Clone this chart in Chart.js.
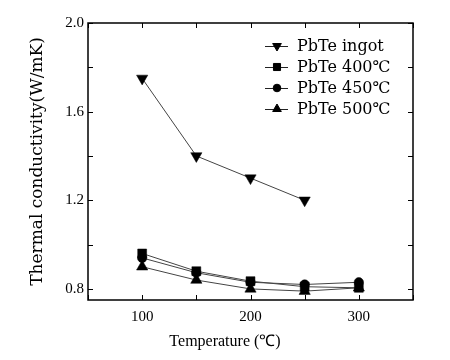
<!DOCTYPE html>
<html><head><meta charset="utf-8">
<script src="https://cdn.jsdelivr.net/npm/chart.js@4/dist/chart.umd.min.js"></script>
<style>html,body{margin:0;padding:0;background:#fff}#w{width:450px;height:360px}</style>
</head><body><div id="w"><canvas id="c" width="450" height="360"></canvas></div>
<script>
const temperatures = [100, 150, 200, 250, 300];
const ingot = [1.75, 1.40, 1.30, 1.20, null];
const pb400 = [0.96, 0.88, 0.835, 0.81, 0.805];
const pb450 = [0.94, 0.873, 0.83, 0.82, 0.83];
const pb500 = [0.90, 0.84, 0.80, 0.79, 0.805];
const seriesLabels = ['PbTe ingot', 'PbTe 400\u2103', 'PbTe 450\u2103', 'PbTe 500\u2103'];
const yTicks = [0.8, 1.0, 1.2, 1.4, 1.6, 1.8, 2.0];
const yLabeled = [0.8, 1.2, 1.6, 2.0];
const xTicks = [50, 100, 150, 200, 250, 300, 350];
const xLabeled = [100, 200, 300];
const xTitle = 'Temperature (\u2103)';
const yTitle = 'Thermal conductivity(W/mK)';

const SERIF = "'Liberation Serif', serif";
const WIDE = "'DejaVu Serif', serif";
const styles = [
  {pointStyle:'triangle', rotation:180, radius:6.5, legendRadius:5},
  {pointStyle:'rect', rotation:0, radius:6.3, legendRadius:5},
  {pointStyle:'circle', rotation:0, radius:4.7, legendRadius:3.8},
  {pointStyle:'triangle', rotation:0, radius:6.5, legendRadius:5}
];
const allData = [ingot, pb400, pb450, pb500];
const datasets = allData.map((arr, i) => ({
  label: seriesLabels[i],
  data: temperatures.map((t, j) => ({x: t, y: arr[j]})).filter(p => p.y !== null),
  borderColor: '#444',
  borderWidth: 1,
  backgroundColor: '#000',
  pointBackgroundColor: '#000',
  pointBorderColor: '#000',
  pointBorderWidth: 0.5,
  pointStyle: styles[i].pointStyle,
  pointRotation: styles[i].rotation,
  pointRadius: styles[i].radius,
  tension: 0
}));

const framePlugin = {
  id: 'frame',
  afterDraw(chart) {
    const {ctx, chartArea: a, scales} = chart;
    ctx.save();
    ctx.strokeStyle = '#000';
    ctx.lineWidth = 1.5;
    ctx.strokeRect(a.left, a.top, a.right - a.left, a.bottom - a.top);
    ctx.lineWidth = 1;
    ctx.beginPath();
    xTicks.forEach(v => {
      const x = Math.round(scales.x.getPixelForValue(v)) + 0.5;
      ctx.moveTo(x, a.bottom); ctx.lineTo(x, a.bottom - 5);
      ctx.moveTo(x, a.top); ctx.lineTo(x, a.top + 5);
    });
    yTicks.forEach(v => {
      const y = Math.round(scales.y.getPixelForValue(v)) + 0.5;
      ctx.moveTo(a.left, y); ctx.lineTo(a.left + 5, y);
      ctx.moveTo(a.right, y); ctx.lineTo(a.right - 5, y);
    });
    ctx.stroke();
    // x-axis title (reference places it left of centre)
    ctx.fillStyle = '#000';
    ctx.font = "16px " + SERIF;
    ctx.textAlign = 'center';
    ctx.textBaseline = 'middle';
    ctx.fillText(xTitle, 225, 342);
    // legend
    const lx = 265, ly = [46, 67, 88, 109];
    chart.data.datasets.forEach((ds, i) => {
      const y = ly[i];
      ctx.strokeStyle = '#222';
      ctx.lineWidth = 1;
      ctx.beginPath(); ctx.moveTo(lx, y + 0.5); ctx.lineTo(lx + 23, y + 0.5); ctx.stroke();
      ctx.fillStyle = '#000'; ctx.strokeStyle = '#000';
      Chart.helpers.drawPoint(ctx, {pointStyle: ds.pointStyle, rotation: ds.pointRotation, radius: styles[i].legendRadius, borderWidth: 0.5}, lx + 12, y);
      ctx.fillStyle = '#000';
      ctx.font = "16px " + WIDE;
      ctx.textBaseline = 'middle';
      ctx.textAlign = 'left';
      ctx.fillText(ds.label, lx + 32, y + 1);
    });
    ctx.restore();
  }
};

new Chart(document.getElementById('c'), {
  type: 'line',
  data: {datasets},
  options: {
    responsive: false,
    animation: false,
    layout: {padding: {left: 23, top: 23, right: 37, bottom: 0}},
    plugins: {legend: {display: false}, tooltip: {enabled: false}},
    scales: {
      x: {
        type: 'linear', min: 50, max: 350,
        afterBuildTicks: s => { s.ticks = xTicks.map(v => ({value: v})); },
        afterFit: s => { s.height = 60; },
        grid: {display: false, drawTicks: false},
        border: {display: false},
        ticks: {
          autoSkip: false, maxRotation: 0, padding: 8, color: '#000',
          font: {family: SERIF, size: 15},
          callback: v => xLabeled.includes(v) ? String(v) : ''
        },
        title: {display: false, text: xTitle}
      },
      y: {
        type: 'linear', min: 0.75, max: 2.0,
        afterBuildTicks: s => { s.ticks = yTicks.map(v => ({value: v})); },
        afterFit: s => { s.width = 65; },
        grid: {display: false, drawTicks: false},
        border: {display: false},
        ticks: {
          autoSkip: false, padding: 4, color: '#000',
          font: {family: SERIF, size: 15},
          callback: v => yLabeled.some(l => Math.abs(l - v) < 1e-6) ? v.toFixed(1) : ''
        },
        title: {display: true, text: yTitle, color: '#000', font: {family: WIDE, size: 17}, padding: {top: 4, bottom: 4}}
      }
    }
  },
  plugins: [framePlugin]
});
</script>
</body></html>
